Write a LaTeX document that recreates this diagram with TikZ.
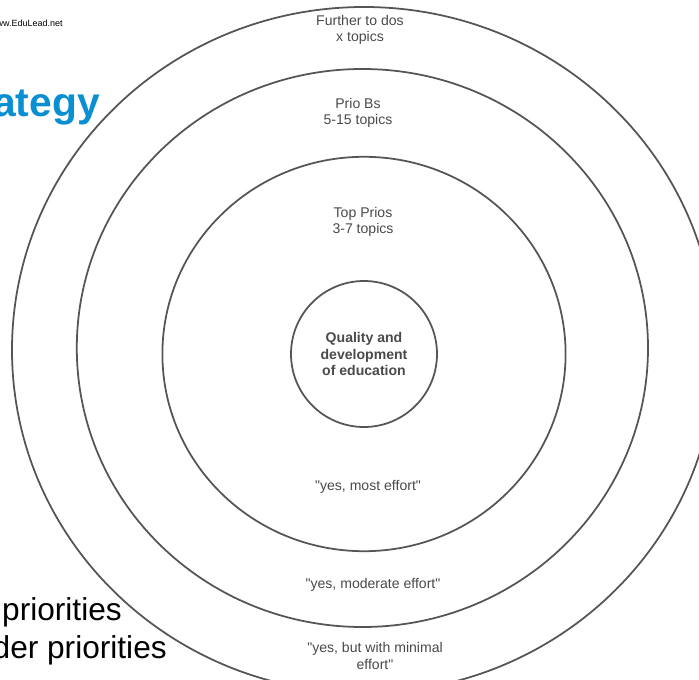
\documentclass[tikz,border=0pt]{standalone}
\usepackage{fontspec}
\setmainfont{Liberation Sans}
\usepackage{xcolor}
\definecolor{ringgray}{HTML}{555555}
\definecolor{labelgray}{HTML}{4A4A4A}
\definecolor{titleblue}{HTML}{0A8FD2}
\newcommand{\dq}{\textquotedbl}

\begin{document}
\begin{tikzpicture}[
    ring/.style={draw=ringgray,line width=1.25pt,fill=white},
    ringlabel/.style={text=labelgray,font=\fontsize{10}{11.5}\selectfont,align=center},
    behind/.style={anchor=base east,inner sep=0pt}]
    \useasboundingbox (-9.1,-8.125) rectangle (8.375,8.85);

    % Slide text lying behind the rings
    \node[behind,font=\fontsize{6.4}{7}\selectfont] (site) at (-7.525,8.175) {ww.EduLead.net};
    \node[behind,text=titleblue,font=\fontsize{29}{34}\bfseries] (title) at (-6.6,5.925) {ategy};
    \node[behind,font=\fontsize{22.5}{27}\selectfont] (listA) at (-6.05,-6.65) {priorities};
    \node[behind,font=\fontsize{22.5}{27}\selectfont] (listB) at (-4.925,-7.6) {der priorities};

    % Rings, outside in
    \draw[ring] (0,0.1) ellipse (8.8 and 8.575);
    \draw[ring] (-0.04,0.15) ellipse (7.14 and 6.975);
    \draw[ring] (0,0) ellipse (5.04 and 4.93);
    \node[ring,circle,minimum size=3.65cm,inner sep=0pt,ringlabel,font=\fontsize{10}{11.6}\bfseries] (core) at (0,0) {Quality and\\development\\of education};

    % Ring labels
    \node[ringlabel] (further) at (-0.1,8.1) {Further to dos\\x topics};
    \node[ringlabel] (prioB) at (-0.15,6.025) {Prio Bs\\5-15 topics};
    \node[ringlabel] (top) at (-0.025,3.3) {Top Prios\\3-7 topics};
    \node[ringlabel] (most) at (0.1,-3.325) {\dq yes, most effort\dq};
    \node[ringlabel] (moderate) at (0.225,-5.775) {\dq yes, moderate effort\dq};
    \node[ringlabel] (minimal) at (0.275,-7.55) {\dq yes, but with minimal\\effort\dq};
\end{tikzpicture}
\end{document}
